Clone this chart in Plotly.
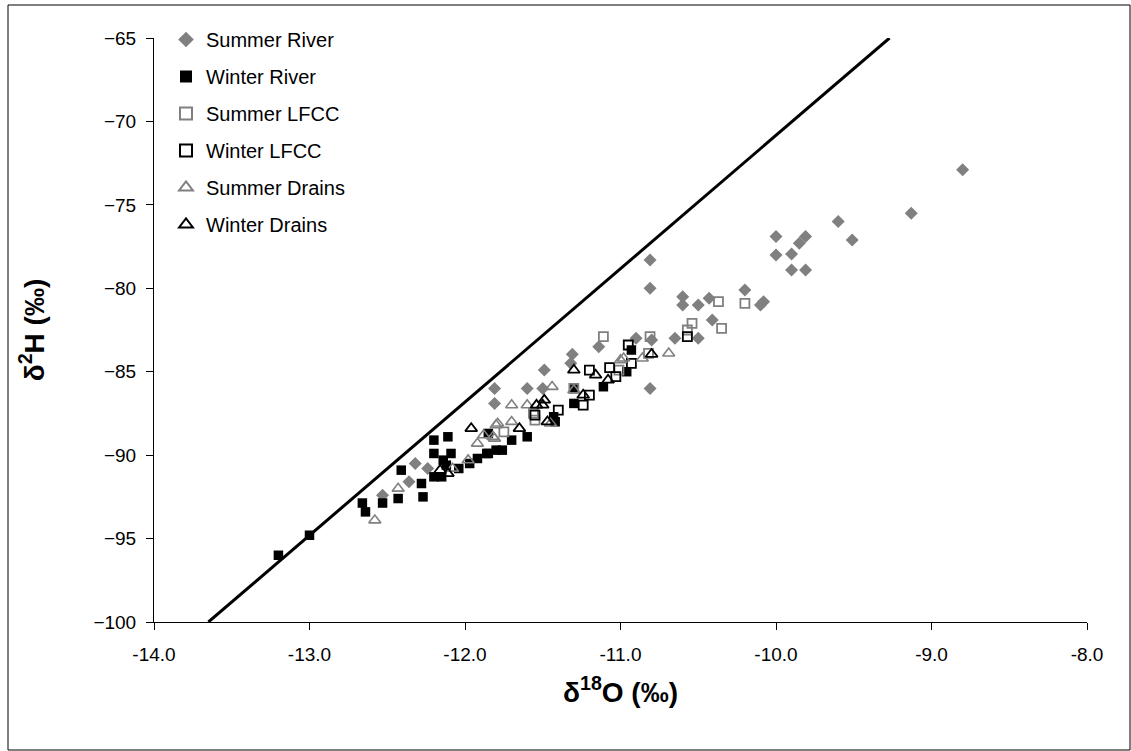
import plotly.graph_objects as go

# Meteoric water line end points (δ18O, δ2H)
mwl_x = [-13.65, -9.27]
mwl_y = [-100.0, -65.0]

summer_river_x = [-12.53, -12.36, -12.32, -12.24, -11.81, -11.81, -11.60, -11.50, -11.49, -11.32,
                  -11.31, -11.14, -10.90, -10.80, -10.81, -10.65, -10.50, -10.60, -10.60, -10.50,
                  -10.43, -10.41, -10.10, -10.08, -10.20, -10.81, -10.81, -10.00, -10.00, -9.90,
                  -9.90, -9.85, -9.81, -9.81, -9.60, -9.51, -9.13, -8.80]
summer_river_y = [-92.4, -91.6, -90.5, -90.8, -86.0, -86.9, -86.0, -86.0, -84.9, -84.5,
                  -83.95, -83.5, -83.0, -83.1, -86.0, -83.0, -83.0, -81.0, -80.5, -81.0,
                  -80.6, -81.9, -81.0, -80.8, -80.1, -80.0, -78.3, -76.9, -78.0, -77.95,
                  -78.9, -77.3, -76.9, -78.9, -76.0, -77.1, -75.5, -72.9]

winter_river_x = [-13.20, -13.00, -12.66, -12.64, -12.53, -12.43, -12.41, -12.28, -12.27, -12.20,
                  -12.20, -12.11, -12.09, -12.14, -12.20, -12.15, -12.04, -11.85, -11.92, -11.85,
                  -11.80, -11.86, -11.76, -11.70, -11.60, -11.42, -11.43, -11.30, -11.30, -11.11,
                  -10.96, -10.93, -11.97, -12.12]
winter_river_y = [-96.0, -94.8, -92.87, -93.4, -92.87, -92.6, -90.9, -91.7, -92.5, -89.1,
                  -89.9, -88.9, -89.9, -90.3, -91.3, -91.3, -90.8, -88.7, -90.2, -89.9,
                  -89.7, -89.9, -89.7, -89.1, -88.9, -88.0, -87.7, -86.9, -86.0, -85.9,
                  -85.0, -83.7, -90.5, -90.6]

summer_lfcc_x = [-11.11, -10.81, -10.54, -10.57, -10.35, -10.37, -10.20, -10.82, -11.01, -11.56,
                 -11.55, -11.75, -11.30]
summer_lfcc_y = [-82.9, -82.9, -82.1, -82.5, -82.4, -80.8, -80.9, -83.9, -84.9, -87.5,
                 -87.9, -88.6, -86.0]

winter_lfcc_x = [-10.57, -10.95, -10.93, -11.07, -11.03, -11.20, -11.20, -11.24, -11.40, -11.55]
winter_lfcc_y = [-82.9, -83.4, -84.5, -84.75, -85.3, -84.9, -86.4, -87.0, -87.3, -87.6]

summer_drains_x = [-12.58, -12.43, -12.08, -11.98, -11.92, -11.88, -11.81, -11.79, -11.82, -11.70,
                   -11.80, -11.70, -11.60, -11.44, -11.45, -11.30, -11.00, -10.98, -10.86, -10.69]
summer_drains_y = [-93.9, -92.0, -90.8, -90.3, -89.3, -88.8, -89.0, -88.1, -88.9, -88.0,
                   -88.2, -87.0, -87.0, -85.9, -88.1, -86.1, -84.3, -84.2, -84.2, -83.9]

winter_drains_x = [-12.16, -12.11, -11.96, -11.65, -11.54, -11.50, -11.49, -11.47, -11.30, -11.24,
                   -11.16, -11.08, -10.80]
winter_drains_y = [-90.9, -91.1, -88.4, -88.4, -87.0, -87.0, -86.7, -88.0, -84.9, -86.4,
                   -85.2, -85.5, -83.95]

x_ticks = [-14.0, -13.0, -12.0, -11.0, -10.0, -9.0, -8.0]
y_ticks = [-100, -95, -90, -85, -80, -75, -70, -65]

GREY = "#808080"
FONT = "Liberation Sans, Arial, sans-serif"

# plot-area geometry in pixels
W, H = 1131, 751
L, R, T, B = 154, 44, 38, 129
PW, PH = W - L - R, H - T - B

fig = go.Figure()

fig.add_trace(go.Scatter(x=mwl_x, y=mwl_y, mode="lines",
                         line=dict(color="black", width=3), showlegend=False,
                         hoverinfo="skip"))

series = [
    ("Summer River", summer_river_x, summer_river_y,
     dict(symbol="diamond", size=10, color=GREY, line=dict(width=0))),
    ("Winter River", winter_river_x, winter_river_y,
     dict(symbol="square", size=9.5, color="black", line=dict(width=0))),
    ("Summer LFCC", summer_lfcc_x, summer_lfcc_y,
     dict(symbol="square-open", size=9, color=GREY, line=dict(width=1.8, color=GREY))),
    ("Winter LFCC", winter_lfcc_x, winter_lfcc_y,
     dict(symbol="square-open", size=9, color="black", line=dict(width=1.8, color="black"))),
    ("Summer Drains", summer_drains_x, summer_drains_y,
     dict(symbol="triangle-up-open", size=10.5, color=GREY, line=dict(width=1.6, color=GREY))),
    ("Winter Drains", winter_drains_x, winter_drains_y,
     dict(symbol="triangle-up-open", size=10.5, color="black", line=dict(width=1.8, color="black"))),
]

for name, xs, ys, marker in series:
    fig.add_trace(go.Scatter(x=xs, y=ys, mode="markers", name=name,
                             legendgroup=name, marker=marker))

fig.update_layout(
    width=W, height=H,
    margin=dict(l=L, r=R, t=T, b=B),
    paper_bgcolor="white", plot_bgcolor="white",
    font=dict(family=FONT, size=19, color="black"),
    showlegend=True,
    legend=dict(x=(166 - L) / PW, y=1 + 18 / PH, xanchor="left", yanchor="top",
                bgcolor="rgba(0,0,0,0)", font=dict(size=20, family=FONT),
                itemsizing="constant", tracegroupgap=8),
    xaxis=dict(range=[-14, -8], tickvals=x_ticks,
               ticktext=[f"{v:.1f}" for v in x_ticks],
               showgrid=False, zeroline=False, showline=True, linecolor="black",
               linewidth=1, ticks="outside", ticklen=7, tickcolor="black",
               ticklabelstandoff=8,
               tickfont=dict(size=19, family=FONT),
               title=dict(text="<b>δ<sup>18</sup>O (‰)</b>",
                          font=dict(size=28, family=FONT), standoff=18)),
    yaxis=dict(range=[-100, -65], tickvals=y_ticks,
               showgrid=False, zeroline=False, showline=True, linecolor="black",
               linewidth=1, ticks="outside", ticklen=7, tickcolor="black",
               ticklabelstandoff=6,
               tickfont=dict(size=19, family=FONT),
               title=dict(text="<b>δ<sup>2</sup>H (‰)</b>",
                          font=dict(size=28, family=FONT), standoff=40)),
    shapes=[dict(type="rect", xref="paper", yref="paper",
                 x0=(8 - L) / PW, x1=(1130 - L) / PW,
                 y0=-(750 - (H - B)) / PH, y1=1 + (T - 5) / PH,
                 line=dict(color="black", width=1), fillcolor="rgba(0,0,0,0)",
                 layer="below")],
)

fig.write_html("out.html")
